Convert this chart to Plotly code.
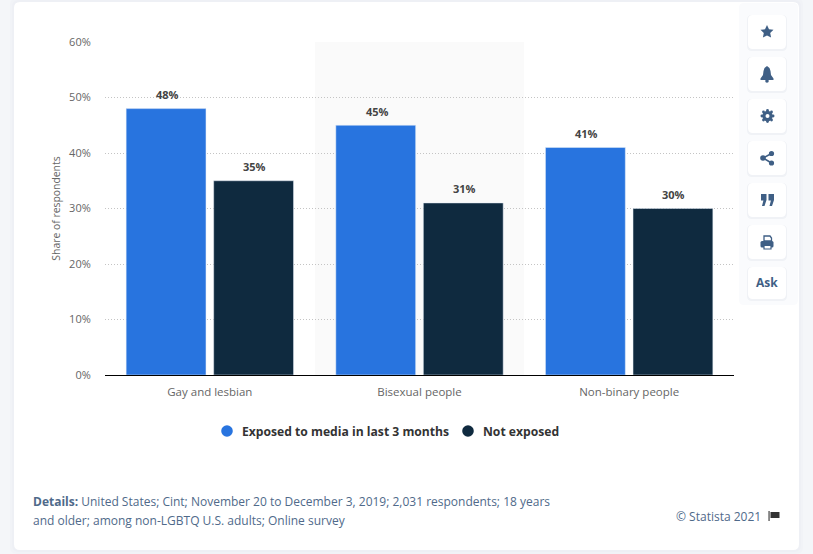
import plotly.graph_objects as go

categories = ["Gay and lesbian", "Bisexual people", "Non-binary people"]
exposed = [48, 45, 41]
not_exposed = [35, 31, 30]
series_names = ["Exposed to media in last 3 months", "Not exposed"]
y_ticks = [0, 10, 20, 30, 40, 50, 60]
y_tick_labels = ["0%", "10%", "20%", "30%", "40%", "50%", "60%"]

W, H = 813, 554
BLUE, NAVY = "#2874DF", "#0F2A3F"
ICON = "#3F5F85"
FONT = "Open Sans"


def px(x):
    return x / W


def py(y):
    return 1 - y / H


def poly(pts):
    return "M" + " L".join(f"{px(a):.5f},{py(b):.5f}" for a, b in pts) + " Z"


def round_rect(x0, y0, x1, y1, r):
    p = lambda a, b: f"{px(a):.5f},{py(b):.5f}"
    return (f"M{p(x0 + r, y0)} L{p(x1 - r, y0)} Q{p(x1, y0)} {p(x1, y0 + r)} "
            f"L{p(x1, y1 - r)} Q{p(x1, y1)} {p(x1 - r, y1)} L{p(x0 + r, y1)} "
            f"Q{p(x0, y1)} {p(x0, y1 - r)} L{p(x0, y0 + r)} Q{p(x0, y0)} {p(x0 + r, y0)} Z")


def pshape(d, fill, line=None, width=0, layer="below"):
    return dict(type="path", xref="paper", yref="paper", path=d, fillcolor=fill,
                line=dict(color=line or "rgba(0,0,0,0)", width=width), layer=layer)


def circle(cx, cy, r, fill):
    return dict(type="circle", xref="paper", yref="paper", x0=px(cx - r), x1=px(cx + r),
                y0=py(cy + r), y1=py(cy - r), fillcolor=fill, line=dict(width=0), layer="above")


shapes = []
# page card with soft shadow
for grow, col in ((4, "#f1f3f7"), (2, "#eef0f5")):
    shapes.append(pshape(round_rect(14 - grow, 2 - grow, 799 + grow, 550 + grow, 7), col))
shapes.append(pshape(round_rect(14, 2, 799, 550, 6), "#ffffff"))
# side panel behind the buttons
shapes.append(pshape(round_rect(739, 3, 798, 305, 5), "#fafbfd"))
# highlighted middle category band
shapes.append(dict(type="rect", xref="paper", yref="paper", x0=px(315), x1=px(524),
                   y0=py(375), y1=py(42), fillcolor="#fafafa", line=dict(width=0), layer="below"))

# buttons
btn_tops = [15, 57, 99, 141, 183, 225, 267]
for t in btn_tops:
    b = t + 34 if t != 267 else 299
    shapes.append(pshape(round_rect(747, t, 787, b + 2, 5), "#f0f2f6"))
    shapes.append(pshape(round_rect(748, t, 786, b, 5), "#ffffff"))

# star
shapes.append(pshape(poly([(767, 25), (769, 29.3), (773.5, 29.8), (770.2, 33), (771.1, 37.6),
                           (767, 35.4), (762.9, 37.6), (763.8, 33), (760.5, 29.8), (765, 29.3)]),
                     ICON, layer="above"))
# bell
shapes.append(pshape(poly([(767, 66), (769.5, 68), (770.5, 71), (771, 75), (773.5, 78.5), (773.5, 80),
                           (760.5, 80), (760.5, 78.5), (763, 75), (763.5, 71), (764.5, 68)]), ICON, layer="above"))
shapes.append(circle(767, 81, 1.8, ICON))
# gear
shapes.append(circle(767.5, 116, 5.2, ICON))
for dx, dy in [(0, -5.6), (0, 5.6), (-5.6, 0), (5.6, 0), (-4, -4), (4, -4), (-4, 4), (4, 4)]:
    shapes.append(circle(767.5 + dx, 116 + dy, 1.4, ICON))
shapes.append(circle(767.5, 116, 2.0, "#ffffff"))
# share
shapes.append(dict(type="path", xref="paper", yref="paper", layer="above",
                   path=poly([(771.5, 153.5), (763, 158), (771.5, 163), (763, 158)]),
                   line=dict(color=ICON, width=1.6), fillcolor="rgba(0,0,0,0)"))
for cx, cy, r in [(771.5, 153.5, 2.6), (763, 158, 2.8), (771.5, 163, 2.6)]:
    shapes.append(circle(cx, cy, r, ICON))
# quotes
for x0 in (761, 768.5):
    shapes.append(pshape(poly([(x0, 194), (x0 + 5.5, 194), (x0 + 5.5, 200), (x0 + 3.5, 206),
                               (x0 + 1, 206), (x0 + 2.4, 200.5), (x0, 200.5)]), ICON, layer="above"))
# printer
shapes.append(pshape(poly([(764, 236), (770, 236), (771.5, 238), (771.5, 241), (764, 241)]),
                     "rgba(0,0,0,0)", ICON, 1.3, "above"))
shapes.append(pshape(round_rect(760.5, 241, 773.5, 247.5, 1.5), ICON, layer="above"))
shapes.append(pshape(poly([(764, 245.5), (771, 245.5), (771, 249), (764, 249)]), "#ffffff", ICON, 1.2, "above"))
# flag
shapes.append(pshape(poly([(768.5, 511), (769.6, 511), (769.6, 521), (768.5, 521)]), "#333333", layer="above"))
shapes.append(pshape(poly([(770.5, 512), (779.5, 512), (779.5, 518), (770.5, 518)]), "#333333", layer="above"))
# legend dots
shapes.append(circle(227, 431, 5.8, BLUE))
shapes.append(circle(468, 431, 5.8, NAVY))

fig = go.Figure()
fig.add_bar(x=categories, y=exposed, name=series_names[0], marker_color=BLUE, showlegend=False,
            hoverinfo="y")
fig.add_bar(x=categories, y=not_exposed, name=series_names[1], marker_color=NAVY, showlegend=False,
            hoverinfo="y")

annotations = []
for vals, shift in ((exposed, -42.5), (not_exposed, 44.5)):
    for c, v in zip(categories, vals):
        annotations.append(dict(x=c, y=v, xref="x", yref="y", text=f"<b>{v}%</b>", showarrow=False,
                                xshift=shift, yshift=14, font=dict(family=FONT, size=11, color="#444444")))

annotations += [
    dict(xref="paper", yref="paper", x=px(239.5), y=py(431), xanchor="left", yanchor="middle", showarrow=False,
         text=f"<b>{series_names[0]}</b>", font=dict(family=FONT, size=12.15, color="#333333")),
    dict(xref="paper", yref="paper", x=px(480.5), y=py(431), xanchor="left", yanchor="middle", showarrow=False,
         text=f"<b>{series_names[1]}</b>", font=dict(family=FONT, size=12.15, color="#333333")),
    dict(xref="paper", yref="paper", x=px(31), y=py(501), xanchor="left", yanchor="middle", showarrow=False,
         align="left", text="<b>Details:</b> United States; Cint; November 20 to December 3, 2019; 2,031 respondents; 18 years",
         font=dict(family=FONT, size=12, color="#4f6a8a")),
    dict(xref="paper", yref="paper", x=px(31), y=py(520), xanchor="left", yanchor="middle", showarrow=False,
         align="left", text="and older; among non-LGBTQ U.S. adults; Online survey",
         font=dict(family=FONT, size=12, color="#4f6a8a")),
    dict(xref="paper", yref="paper", x=px(763), y=py(516), xanchor="right", yanchor="middle", showarrow=False,
         text="© Statista 2021", font=dict(family=FONT, size=12, color="#4f6a8a")),
    dict(xref="paper", yref="paper", x=px(767), y=py(282), xanchor="center", yanchor="middle", showarrow=False,
         text="<b>Ask</b>", font=dict(family=FONT, size=12, color=ICON)),
]

fig.update_layout(
    width=W, height=H, autosize=False,
    margin=dict(l=0, r=0, t=0, b=0, pad=0, autoexpand=False),
    paper_bgcolor="#f4f6f9", plot_bgcolor="rgba(0,0,0,0)",
    font=dict(family=FONT, size=11, color="#666666"),
    barmode="group", bargap=0.165, bargroupgap=0.088,
    showlegend=False,
    shapes=shapes, annotations=annotations,
    xaxis=dict(domain=[px(105), px(734)], showgrid=False, showline=True, linecolor="#000000", linewidth=1,
               ticks="outside", ticklen=6, tickcolor="rgba(0,0,0,0)", tickfont=dict(size=11.5, color="#666666"),
               fixedrange=True),
    yaxis=dict(domain=[py(375), py(42)], range=[0, 60], tickvals=y_ticks, ticktext=y_tick_labels,
               showgrid=True, gridcolor="#c4c4c4", griddash="1px,2px", gridwidth=1, zeroline=False,
               ticks="outside", ticklen=11, tickcolor="rgba(0,0,0,0)", tickfont=dict(size=11, color="#666666"),
               title=dict(text="Share of respondents", font=dict(size=10.4, color="#666666"), standoff=6),
               fixedrange=True),
)
fig.write_html("out.html", config={"displayModeBar": False},
               post_script="document.body.style.margin='0';document.body.style.background='#f4f6f9';")
